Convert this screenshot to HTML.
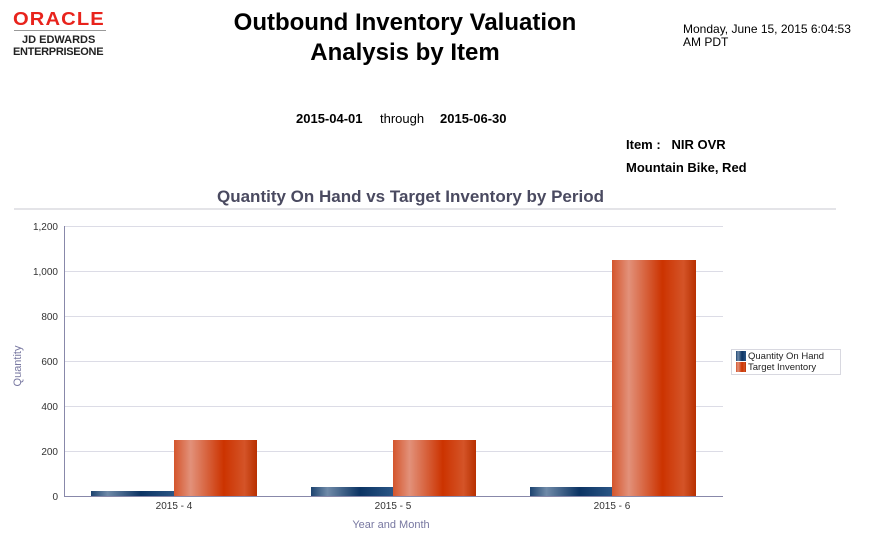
<!DOCTYPE html>
<html><head><meta charset="utf-8"><style>
body{margin:0;width:871px;height:538px;background:#fff;font-family:"Liberation Sans",Arial,sans-serif;position:relative;overflow:hidden}
.a{position:absolute;white-space:nowrap}
</style></head><body>
<div class="a" style="left:13px;top:9px;color:#e8231c;font-size:18px;font-weight:bold;letter-spacing:1px;transform:scaleX(1.12);transform-origin:left">ORACLE</div>
<div class="a" style="left:14px;top:30px;width:92px;border-top:1px solid #999"></div>
<div class="a" style="left:22px;top:34px;font-size:11px;font-weight:bold;color:#222">JD EDWARDS</div>
<div class="a" style="left:13px;top:46px;font-size:11px;font-weight:bold;color:#222;letter-spacing:-0.3px">ENTERPRISEONE</div>
<div class="a" style="left:205px;top:8px;width:400px;text-align:center;font-size:24px;font-weight:bold;line-height:30px;color:#000">Outbound Inventory Valuation<br>Analysis by Item</div>
<div class="a" style="left:683px;top:23px;font-size:12px;line-height:13px;color:#000">Monday, June 15, 2015 6:04:53<br>AM PDT</div>
<div class="a" style="left:296px;top:111px;font-size:13px;font-weight:bold">2015-04-01</div>
<div class="a" style="left:380px;top:111px;font-size:13px">through</div>
<div class="a" style="left:440px;top:111px;font-size:13px;font-weight:bold">2015-06-30</div>
<div class="a" style="left:626px;top:137px;font-size:13px;font-weight:bold">Item :&nbsp;&nbsp; NIR OVR</div>
<div class="a" style="left:626px;top:160px;font-size:13px;font-weight:bold">Mountain Bike, Red</div>
<div class="a" style="left:0;top:187px;width:821px;text-align:center;font-size:17px;font-weight:bold;color:#4a4a60">Quantity On Hand vs Target Inventory by Period</div>
<svg class="a" style="left:0;top:0" width="871" height="538">
<defs>
<linearGradient id="b" x1="0" x2="1"><stop offset="0" stop-color="#1d4470"/><stop offset=".2" stop-color="#6f8aa8"/><stop offset=".6" stop-color="#0c3464"/><stop offset="1" stop-color="#2a5585"/></linearGradient>
<linearGradient id="o" x1="0" x2="1"><stop offset="0" stop-color="#d4552c"/><stop offset=".2" stop-color="#e2917a"/><stop offset=".6" stop-color="#cc3300"/><stop offset=".85" stop-color="#d45428"/><stop offset="1" stop-color="#b83000"/></linearGradient>
</defs>
<line x1="14" y1="209" x2="836" y2="209" stroke="#c8c8d0"/>
<g stroke="#dcdce6">
<line x1="64" y1="226.5" x2="723" y2="226.5"/><line x1="64" y1="271.5" x2="723" y2="271.5"/><line x1="64" y1="316.5" x2="723" y2="316.5"/><line x1="64" y1="361.5" x2="723" y2="361.5"/><line x1="64" y1="406.5" x2="723" y2="406.5"/><line x1="64" y1="451.5" x2="723" y2="451.5"/>
</g>
<rect x="91" y="491" width="83" height="5" fill="url(#b)"/>
<rect x="174" y="440" width="83" height="56" fill="url(#o)"/>
<rect x="311" y="487" width="82" height="9" fill="url(#b)"/>
<rect x="393" y="440" width="83" height="56" fill="url(#o)"/>
<rect x="530" y="487" width="82" height="9" fill="url(#b)"/>
<rect x="612" y="260" width="84" height="236" fill="url(#o)"/>
<line x1="64.5" y1="226" x2="64.5" y2="497" stroke="#8888aa"/>
<line x1="64" y1="496.5" x2="723" y2="496.5" stroke="#8888aa"/>
<g font-family="Liberation Sans,Arial" font-size="10" fill="#333" text-anchor="end">
<text x="58" y="230">1,200</text><text x="58" y="275">1,000</text><text x="58" y="320">800</text><text x="58" y="365">600</text><text x="58" y="410">400</text><text x="58" y="455">200</text><text x="58" y="500">0</text>
</g>
<g font-family="Liberation Sans,Arial" font-size="10" fill="#333" text-anchor="middle">
<text x="174" y="509">2015 - 4</text><text x="393" y="509">2015 - 5</text><text x="612" y="509">2015 - 6</text>
</g>
<text x="391" y="528" font-family="Liberation Sans,Arial" font-size="11" fill="#7777a0" text-anchor="middle">Year and Month</text>
<text transform="translate(21,366) rotate(-90)" font-family="Liberation Sans,Arial" font-size="11" fill="#7777a0" text-anchor="middle">Quantity</text>
<rect x="731.5" y="349.5" width="109" height="25" fill="#fff" stroke="#d8d8e0"/>
<rect x="736" y="351" width="10" height="10" fill="url(#b)"/>
<rect x="736" y="362" width="10" height="10" fill="url(#o)"/>
<text x="748" y="359" font-family="Liberation Sans,Arial" font-size="9.5" fill="#222">Quantity On Hand</text>
<text x="748" y="370" font-family="Liberation Sans,Arial" font-size="9.5" fill="#222">Target Inventory</text>
</svg>
</body></html>
